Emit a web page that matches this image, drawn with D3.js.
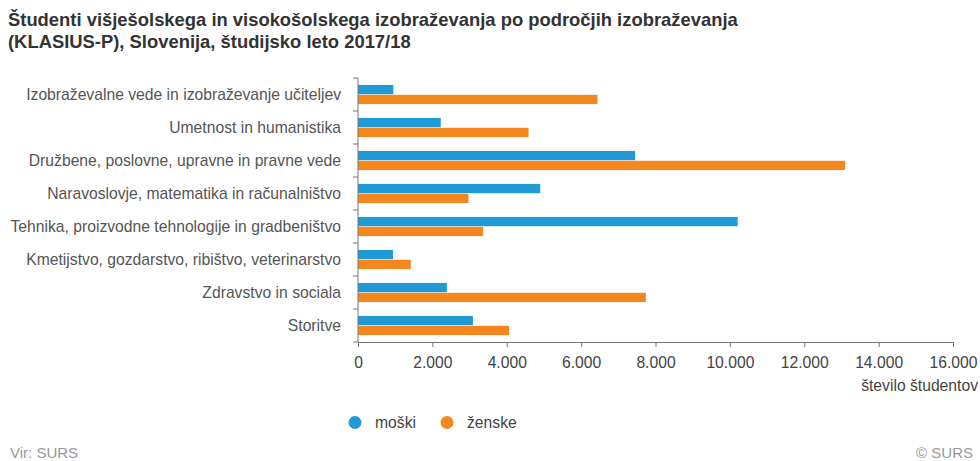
<!DOCTYPE html>
<html>
<head>
<meta charset="utf-8">
<script src="https://cdnjs.cloudflare.com/ajax/libs/d3/7.8.5/d3.min.js"></script>
<style>
  body { margin: 0; background: #fff; }
  text { font-family: "Liberation Sans", Arial, sans-serif; }
</style>
</head>
<body>
<script>
// data
const categories = [
  "Izobraževalne vede in izobraževanje učiteljev",
  "Umetnost in humanistika",
  "Družbene, poslovne, upravne in pravne vede",
  "Naravoslovje, matematika in računalništvo",
  "Tehnika, proizvodne tehnologije in gradbeništvo",
  "Kmetijstvo, gozdarstvo, ribištvo, veterinarstvo",
  "Zdravstvo in sociala",
  "Storitve"
]
const moski = [950, 2225, 7450, 4900, 10210, 940, 2390, 3090]
const zenske = [6440, 4585, 13100, 2970, 3365, 1420, 7740, 4065]
const xTicks = [0, 2000, 4000, 6000, 8000, 10000, 12000, 14000, 16000]
const seriesNames = ["moški", "ženske"]
const colors = ["#1f9ad6", "#f5871f"]

const width = 980, height = 461
const margin = {left: 358, right: 27, top: 78, bottom: 119}
const fontSize = "15.7px"

var svg = d3.select("body").append("svg")
  .attr("width", width)
  .attr("height", height)

// title
var title = svg.append("g").attr("fill", "#333").style("font-weight", "bold").style("font-size", "18.4px")
title.append("text").attr("x", 8).attr("y", 26)
  .text("Študenti višješolskega in visokošolskega izobraževanja po področjih izobraževanja")
title.append("text").attr("x", 8).attr("y", 48)
  .text("(KLASIUS-P), Slovenija, študijsko leto 2017/18")

var x = d3.scaleLinear()
  .domain([0, 16000])
  .range([margin.left, width - margin.right])

var y = d3.scaleBand()
  .domain(categories)
  .range([margin.top, height - margin.bottom])
  .paddingInner(0.42)
  .paddingOuter(0.21)

var y1 = d3.scaleBand()
  .domain(seriesNames)
  .range([0, y.bandwidth()])
  .paddingInner(0.06)

// bars
var rows = svg.append("g").selectAll("g")
  .data(categories)
  .enter().append("g")
  .attr("transform", (d) => `translate(0,${y(d)})`)

rows.selectAll("rect")
  .data((d, i) => [moski[i], zenske[i]])
  .enter().append("rect")
  .attr("x", x(0))
  .attr("y", (d, j) => y1(seriesNames[j]))
  .attr("width", (d) => x(d) - x(0))
  .attr("height", y1.bandwidth())
  .attr("fill", (d, j) => colors[j])

// x axis
var fmt = (d) => d3.format(",")(d).replace(/,/g, ".")
var xAxis = svg.append("g")
  .attr("transform", `translate(0,${height - margin.bottom})`)
  .call(d3.axisBottom(x).tickValues(xTicks).tickFormat(fmt).tickSize(5).tickSizeOuter(0).tickPadding(10))
xAxis.select(".domain").attr("stroke", "#777")
xAxis.selectAll(".tick line").attr("stroke", "#777")
xAxis.selectAll(".tick text").attr("fill", "#444").style("font-size", fontSize)

// y axis
var bandStep = y.step()
var yTickPos = d3.range(categories.length + 1).map((i) => y.range()[0] + i * bandStep)
var yAxis = svg.append("g")
yAxis.append("line")
  .attr("x1", x(0)).attr("x2", x(0))
  .attr("y1", margin.top).attr("y2", height - margin.bottom)
  .attr("stroke", "#777")
yAxis.selectAll(".yt")
  .data(yTickPos)
  .enter().append("line")
  .attr("x1", x(0) - 5).attr("x2", x(0))
  .attr("y1", (d) => d).attr("y2", (d) => d)
  .attr("stroke", "#777")
yAxis.selectAll(".yl")
  .data(categories)
  .enter().append("text")
  .attr("x", x(0) - 17)
  .attr("y", (d) => y(d) + y.bandwidth() / 2)
  .attr("dy", "0.35em")
  .attr("text-anchor", "end")
  .attr("fill", "#555")
  .style("font-size", fontSize)
  .text((d) => d)

svg.append("text")
  .attr("x", 978).attr("y", 391)
  .attr("text-anchor", "end")
  .attr("fill", "#444")
  .style("font-size", fontSize)
  .text("število študentov")

// legend
var legend = svg.append("g").selectAll("g")
  .data(seriesNames)
  .enter().append("g")
  .attr("transform", (d, i) => `translate(${355 + i * 92},422.5)`)
legend.append("circle").attr("r", 6.5).attr("fill", (d, i) => colors[i])
legend.append("text").attr("x", 20).attr("dy", "0.35em")
  .attr("fill", "#444").style("font-size", fontSize).text((d) => d)

// footer
svg.append("text").attr("x", 10).attr("y", 458)
  .attr("fill", "#999").style("font-size", "15px").text("Vir: SURS")
svg.append("text").attr("x", 973).attr("y", 458).attr("text-anchor", "end")
  .attr("fill", "#999").style("font-size", "15px").text("© SURS")
</script>
</body>
</html>
